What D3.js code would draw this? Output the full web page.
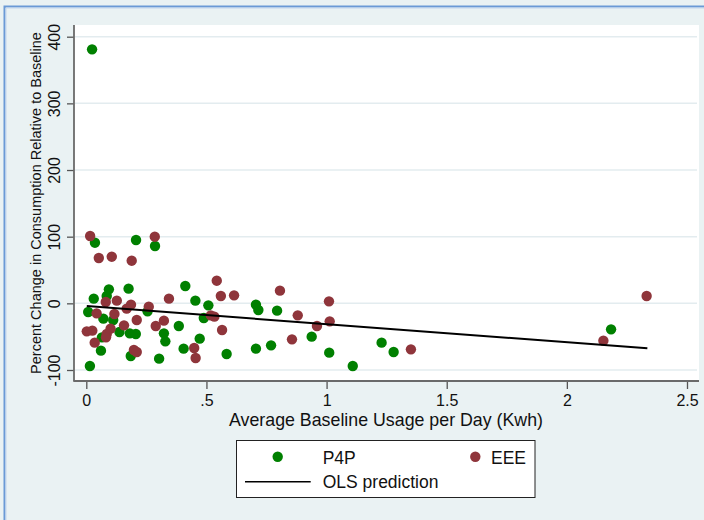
<!DOCTYPE html>
<html>
<head>
<meta charset="utf-8">
<script src="https://cdn.jsdelivr.net/npm/d3@7"></script>
<style>
  html, body { margin: 0; padding: 0; background: #eaf2f3; }
  svg { display: block; }
  text { font-family: "Liberation Sans", Arial, Helvetica, sans-serif; fill: #111; }
</style>
</head>
<body>
<svg id="chart" width="704" height="520"></svg>
<script>
// ---- data ----
const p4pX = [0.024, 0.036, 0.207, 0.286, 0.412, 0.094, 0.176, 0.031, 0.085, 0.454,
              0.508, 0.706, 0.716, 0.794, 0.008, 0.071, 0.112, 0.255, 0.489, 0.385,
              0.138, 0.181, 0.206, 0.323, 0.329, 0.472, 0.065, 0.061, 0.185, 0.303,
              0.405, 0.584, 0.706, 0.769, 0.015, 0.938, 1.011, 1.109, 1.229, 1.279, 2.184];
const p4pY = [381, 91, 95, 86, 26, 21, 22, 7, 11, 4,
              -3, -2, -10, -11, -13, -23, -25, -12, -22, -34,
              -43, -45, -46, -45, -57, -53, -51, -71, -79, -83,
              -68, -76, -68, -63, -94, -50, -74, -94, -59, -73, -39];
const eeeX = [0.016, 0.285, 0.052, 0.106, 0.189, 0.543, 0.560, 0.615, 0.806, 0.081,
              0.127, 0.043, 0.186, 0.168, 0.117, 0.260, 0.344, 0.210, 0.323, 0.289,
              0.157, 0.101, 0.002, 0.025, 0.085, 0.082, 0.035, 0.518, 0.533, 0.565,
              0.449, 0.455, 0.198, 0.210, 1.010, 0.880, 0.960, 1.013, 0.856, 1.351,
              2.152, 2.332];
const eeeY = [101, 100, 68, 70, 64, 34, 11, 12, 19, 2,
              4, -15, -2, -8, -16, -5, 7, -25, -26, -34,
              -33, -38, -42, -41, -46, -51, -59, -18, -20, -40,
              -67, -82, -70, -73, 3, -18, -34, -27, -54, -69,
              -56, 11];
const olsX = [0.002, 2.335];
const olsY = [-4, -67.5];
const xTicks = [0, 0.5, 1, 1.5, 2, 2.5];
const xTickLabels = ["0", ".5", "1", "1.5", "2", "2.5"];
const yTicks = [-100, 0, 100, 200, 300, 400];
const yTickLabels = ["-100", "0", "100", "200", "300", "400"];
const seriesNames = ["P4P", "EEE"];
const lineName = "OLS prediction";
const xTitle = "Average Baseline Usage per Day (Kwh)";
const yTitle = "Percent Change in Consumption Relative to Baseline";
const colors = { P4P: "#008000", EEE: "#8f353b" };

// ---- layout ----
const svg = d3.select("#chart");
const W = 704, H = 520;
const x = d3.scaleLinear().domain([0, 2.5]).range([86.3, 687]);
const y = d3.scaleLinear().domain([-100, 400]).range([370, 36.7]);
const plotL = 74, plotR = 699, plotT = 25, plotB = 381;

// background + outer frame
svg.append("rect").attr("x", 0).attr("y", 0).attr("width", W).attr("height", H).attr("fill", "#eaf2f3");
svg.append("path").attr("d", `M4.5,${H} V6.5 H${W}`).attr("fill", "none")
   .attr("stroke", "#6b9ad6").attr("stroke-width", 2);
svg.append("path").attr("d", `M6,${H} V8 H${W}`).attr("fill", "none")
   .attr("stroke", "#c3d6ee").attr("stroke-width", 1);

// plot region
svg.append("rect").attr("x", plotL).attr("y", plotT).attr("width", plotR - plotL).attr("height", plotB - plotT)
   .attr("fill", "#ffffff");

// gridlines
svg.append("g").selectAll("line").data(yTicks).join("line")
   .attr("x1", plotL + 1).attr("x2", plotR - 2)
   .attr("y1", d => y(d)).attr("y2", d => y(d))
   .attr("stroke", "#e3ecef").attr("stroke-width", 1.5);

// axes
const yAxis = d3.axisLeft(y).tickValues(yTicks).tickSize(7).tickPadding(3)
   .tickFormat((d, i) => yTickLabels[i]);
const gy = svg.append("g").attr("transform", `translate(${plotL},0)`).call(yAxis);
gy.select(".domain").remove();
gy.selectAll(".tick line").attr("stroke", "#555").attr("stroke-width", 1.3);
gy.selectAll(".tick text")
  .attr("transform", "rotate(-90)")
  .attr("x", 0).attr("y", -14).attr("dy", 0)
  .attr("text-anchor", "middle")
  .style("font-size", "16px")
  .style("font-family", "'Liberation Sans', Arial, sans-serif")
  .attr("fill", "#111");

const xAxis = d3.axisBottom(x).tickValues(xTicks).tickSize(8).tickPadding(6)
   .tickFormat((d, i) => xTickLabels[i]);
const gx = svg.append("g").attr("transform", `translate(0,${plotB})`).call(xAxis);
gx.select(".domain").remove();
gx.selectAll(".tick line").attr("stroke", "#555").attr("stroke-width", 1.3);
gx.selectAll(".tick text")
  .attr("dy", "0.71em")
  .style("font-size", "16px")
  .style("font-family", "'Liberation Sans', Arial, sans-serif")
  .attr("fill", "#111");

svg.append("line").attr("x1", plotL).attr("x2", plotL).attr("y1", plotT).attr("y2", plotB + 0.5)
   .attr("stroke", "#6a6a6a").attr("stroke-width", 1.8);
svg.append("line").attr("x1", plotL - 0.5).attr("x2", plotR).attr("y1", plotB).attr("y2", plotB)
   .attr("stroke", "#6a6a6a").attr("stroke-width", 1.8);

// titles
svg.append("text").attr("x", 386).attr("y", 426)
   .attr("text-anchor", "middle").style("font-size", "17.8px").text(xTitle);
svg.append("text").attr("transform", `translate(41,203) rotate(-90)`)
   .attr("text-anchor", "middle").style("font-size", "14.5px").text(yTitle);

// points
const p4p = p4pX.map((v, i) => ({ x: v, y: p4pY[i] }));
const eee = eeeX.map((v, i) => ({ x: v, y: eeeY[i] }));
svg.append("g").selectAll("circle").data(p4p).join("circle")
   .attr("cx", d => x(d.x)).attr("cy", d => y(d.y)).attr("r", 5.2)
   .attr("fill", colors.P4P);
svg.append("g").selectAll("circle").data(eee).join("circle")
   .attr("cx", d => x(d.x)).attr("cy", d => y(d.y)).attr("r", 5.2)
   .attr("fill", colors.EEE);

// OLS line
const ols = olsX.map((v, i) => ({ x: v, y: olsY[i] }));
svg.append("path").datum(ols)
   .attr("d", d3.line().x(d => x(d.x)).y(d => y(d.y)))
   .attr("fill", "none").attr("stroke", "#000").attr("stroke-width", 2);

// legend
const lg = svg.append("g");
lg.append("rect").attr("x", 236.5).attr("y", 440.5).attr("width", 298.5).attr("height", 57)
  .attr("fill", "#fff").attr("stroke", "#222").attr("stroke-width", 1);
lg.append("circle").attr("cx", 277.7).attr("cy", 456.7).attr("r", 5.2).attr("fill", colors.P4P);
lg.append("text").attr("x", 322.7).attr("y", 463.5).style("font-size", "17.5px").text(seriesNames[0]);
lg.append("circle").attr("cx", 475.3).attr("cy", 456.7).attr("r", 5.2).attr("fill", colors.EEE);
lg.append("text").attr("x", 491).attr("y", 463.5).style("font-size", "17.5px").text(seriesNames[1]);
lg.append("line").attr("x1", 245).attr("x2", 310.7).attr("y1", 481.7).attr("y2", 481.7)
  .attr("stroke", "#000").attr("stroke-width", 1.5);
lg.append("text").attr("x", 322.7).attr("y", 488).style("font-size", "17.5px").text(lineName);
</script>
</body>
</html>
